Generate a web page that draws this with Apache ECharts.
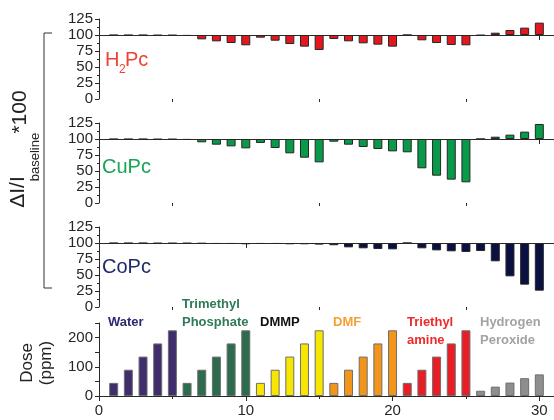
<!DOCTYPE html>
<html>
<head>
<meta charset="utf-8">
<script src="https://cdn.jsdelivr.net/npm/echarts@6/dist/echarts.min.js"></script>
<style>
  html, body { margin: 0; padding: 0; background: #fff; }
  #chart { width: 554px; height: 420px; }
</style>
</head>
<body>
<div id="chart"></div>
<script>
// exposure index along the x axis (5 doses x 6 analytes)
const positions = [1, 2, 3, 4, 5, 6, 7, 8, 9, 10, 11, 12, 13, 14, 15,
                   16, 17, 18, 19, 20, 21, 22, 23, 24, 25, 26, 27, 28, 29, 30];

// response, I/I_baseline*100 (baseline = 100)
const h2pc = [99.6, 99.6, 99.6, 99.3, 99.3, 98.6, 93.2, 90.1, 87.5, 83.9,
              95.8, 91.1, 85.9, 81.8, 76.6, 93.8, 90.1, 87.0, 84.9, 81.8,
              100, 91.7, 87.5, 84.4, 83.9, 99.3, 103.6, 107.8, 111.5, 119.3];
const cupc = [99.6, 99.6, 99.6, 99.3, 99.3, 98.6, 94.8, 91.1, 88.5, 85.4,
              93.8, 85.9, 77.6, 70.8, 63.5, 95.8, 91.1, 87.5, 84.4, 80.7,
              79.2, 54.2, 42.7, 36.5, 32.3, 100, 103.6, 106.8, 111.5, 123.4];
const copc = [99.6, 99.6, 99.6, 99.3, 99.3, 99.3, 99.0, 98.5, 98.5, 98.0,
              98.5, 98.5, 98.0, 98.0, 97.5, 96.5, 93.2, 91.7, 90.6, 90.1,
              100, 91.7, 88.5, 87.0, 86.0, 87.5, 71.4, 47.9, 34.9, 25.5];

// dose in ppm
const dose = [45, 90, 135, 180, 225,  45, 90, 135, 180, 225,
              45, 90, 135, 180, 225,  45, 90, 135, 180, 225,
              45, 90, 135, 180, 225,  18, 32, 46, 61, 74];

const analytes = ['Water', 'Trimethyl\nPhosphate', 'DMMP', 'DMF', 'Triethyl\namine', 'Hydrogen\nPeroxide'];
const analyteBar = ['#3f2d6c', '#2c6b4d', '#f6e600', '#f2951a', '#e81d25', '#8e8e8e'];
const analyteText = ['#2b2a72', '#2f7a57', '#111111', '#f5a032', '#ee2b2b', '#a3a3a3'];
const analyteX = [108, 182, 260, 333, 407, 480];

const doseTicks = [0, 100, 200];
const xTicks = [0, 10, 20, 30];
const xMinor = [5, 15, 25];

const FONT = 'Liberation Sans';
const panels = [
  { data: h2pc, color: '#e3181f', top: 19 },
  { data: cupc, color: '#089a49', top: 123 },
  { data: copc, color: '#0a103f', top: 227 }
];

const chart = echarts.init(document.getElementById('chart'));

const grid = [], xAxis = [], yAxis = [], series = [];
const lineStyle = { color: '#2a2a2a', width: 1 };

panels.forEach((p, i) => {
  grid.push({ left: 99, top: p.top, width: 456, height: 80 });
  // major x ticks
  xAxis.push({
    type: 'value', gridIndex: i, min: 0, max: 31, position: 'bottom',
    axisLine: { onZero: true, lineStyle },
    axisTick: { customValues: xTicks, length: 5, lineStyle },
    axisLabel: { show: false }, splitLine: { show: false }
  });
  // minor x ticks
  xAxis.push({
    type: 'value', gridIndex: i, min: 0, max: 31, position: 'bottom',
    axisLine: { show: false, onZero: true },
    axisTick: { customValues: xMinor, length: 3, lineStyle },
    axisLabel: { show: false }, splitLine: { show: false }
  });
  yAxis.push({
    type: 'value', gridIndex: i, min: -100, max: 25, interval: 25,
    axisLine: { show: true, lineStyle },
    axisTick: { show: true, length: 4, lineStyle },
    minorTick: { show: true, splitNumber: 2, length: 2, lineStyle },
    axisLabel: {
      formatter: v => String(v + 100), margin: 6,
      color: '#262626', fontFamily: FONT, fontSize: 15
    },
    splitLine: { show: false }
  });
  series.push({
    type: 'bar', xAxisIndex: i * 2, yAxisIndex: i,
    data: positions.map((x, k) => [x, p.data[k] - 100]),
    barWidth: 9,
    itemStyle: { color: p.color, borderColor: '#262626', borderWidth: 1 },
    silent: true
  });
});

// dose panel
grid.push({ left: 99, top: 323, width: 456, height: 73 });
xAxis.push({
  type: 'value', gridIndex: 3, min: 0, max: 31, position: 'bottom',
  axisLine: { onZero: false, lineStyle },
  axisTick: { customValues: xTicks, length: 5, lineStyle },
  axisLabel: {
    customValues: xTicks, color: '#262626', fontFamily: FONT, fontSize: 15, margin: 7
  },
  splitLine: { show: false }
});
xAxis.push({
  type: 'value', gridIndex: 3, min: 0, max: 31, position: 'bottom',
  axisLine: { show: false, onZero: false },
  axisTick: { customValues: xMinor, length: 3, lineStyle },
  axisLabel: { show: false }, splitLine: { show: false }
});
yAxis.push({
  type: 'value', gridIndex: 3, min: 0, max: 250, interval: 50,
  axisLine: { show: true, lineStyle },
  axisTick: { show: true, length: 4, lineStyle },
  axisLabel: {
    customValues: doseTicks, margin: 6,
    color: '#262626', fontFamily: FONT, fontSize: 15
  },
  splitLine: { show: false }
});
series.push({
  type: 'bar', xAxisIndex: 6, yAxisIndex: 3,
  data: positions.map((x, k) => ({
    value: [x, dose[k]],
    itemStyle: { color: analyteBar[Math.floor(k / 5)] }
  })),
  barWidth: 9,
  itemStyle: { borderColor: '#6e6e6e', borderWidth: 1 },
  silent: true
});

const graphic = [
  // bracket grouping the three sensor panels
  { type: 'polyline', shape: { points: [[52, 33], [44, 33], [44, 288], [52, 288]] },
    style: { stroke: '#333', lineWidth: 1, fill: null } },
  { type: 'text', x: 18, y: 192, rotation: Math.PI / 2,
    style: { text: 'ΔI/I', font: '21px "Liberation Sans"', fill: '#222', align: 'center', verticalAlign: 'middle' } },
  { type: 'text', x: 35, y: 157, rotation: Math.PI / 2,
    style: { text: 'baseline', font: '13px "Liberation Sans"', fill: '#222', align: 'center', verticalAlign: 'middle' } },
  { type: 'text', x: 20, y: 112, rotation: Math.PI / 2,
    style: { text: '*100', font: '21px "Liberation Sans"', fill: '#222', align: 'center', verticalAlign: 'middle' } },
  // dose axis title
  { type: 'text', x: 27, y: 363, rotation: Math.PI / 2,
    style: { text: 'Dose', font: '17px "Liberation Sans"', fill: '#222', align: 'center', verticalAlign: 'middle' } },
  { type: 'text', x: 46, y: 363, rotation: Math.PI / 2,
    style: { text: '(ppm)', font: '17px "Liberation Sans"', fill: '#222', align: 'center', verticalAlign: 'middle' } },
  // panel names
  { type: 'text', x: 105, y: 60,
    style: { text: 'H', font: '20px "Liberation Sans"', fill: '#ef4232', verticalAlign: 'middle' } },
  { type: 'text', x: 119, y: 70,
    style: { text: '2', font: '12px "Liberation Sans"', fill: '#ef4232', verticalAlign: 'middle' } },
  { type: 'text', x: 125, y: 60,
    style: { text: 'Pc', font: '20px "Liberation Sans"', fill: '#ef4232', verticalAlign: 'middle' } },
  { type: 'text', x: 102, y: 167,
    style: { text: 'CuPc', font: '20px "Liberation Sans"', fill: '#16a552', verticalAlign: 'middle' } },
  { type: 'text', x: 102, y: 267,
    style: { text: 'CoPc', font: '20px "Liberation Sans"', fill: '#1f2a6b', verticalAlign: 'middle' } }
];

analytes.forEach((name, k) => {
  const lines = name.split('\n');
  const twoAbove = k === 1; // "Trimethyl" sits above "Phosphate"
  lines.forEach((ln, j) => {
    const y = twoAbove ? 304 + j * 18 : 322 + j * 18;
    graphic.push({
      type: 'text', x: analyteX[k], y,
      style: { text: ln, font: 'bold 13px "Liberation Sans"', fill: analyteText[k], verticalAlign: 'middle' }
    });
  });
});

chart.setOption({
  animation: false,
  backgroundColor: '#fff',
  grid, xAxis, yAxis, series, graphic
});
</script>
</body>
</html>
